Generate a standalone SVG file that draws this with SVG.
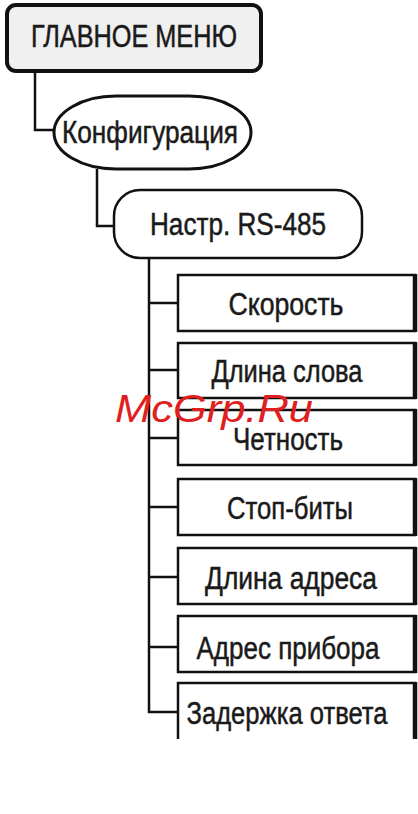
<svg xmlns="http://www.w3.org/2000/svg" width="418" height="814" viewBox="0 0 418 814">
<style>
text{font-family:"Liberation Sans",Arial,sans-serif;fill:#1a1a1a;text-anchor:middle}
.t{font-size:31px;stroke:#1a1a1a;stroke-width:0.5}
.box{fill:#fff;stroke:#111;stroke-width:2.5}
.edge{stroke:#111;stroke-width:4.5;fill:none}
.conn{fill:none;stroke:#111;stroke-width:2.5}
</style>
<rect width="418" height="814" fill="#fff"/>
<g id="connectors">
<path class="conn" d="M35,73 V130 H55"/>
<path class="conn" d="M97,169 V226 H114"/>
<path class="conn" d="M149,258 V712 H178 M149,303 H178 M149,370 H178 M149,438 H178 M149,507 H178 M149,577 H178 M149,647 H178"/>
</g>
<g id="main-menu">
<rect x="7" y="5" width="254" height="66" rx="9" fill="#f0f0f0" stroke="#111" stroke-width="4"/>
<text class="t" x="134" y="47" textLength="206" lengthAdjust="spacingAndGlyphs">ГЛАВНОЕ МЕНЮ</text>
</g>
<g id="config">
<rect x="54" y="96" width="197" height="73" rx="62" ry="36.5" fill="#fff" stroke="#111" stroke-width="3"/>
<text class="t" x="150" y="143" textLength="176" lengthAdjust="spacingAndGlyphs">Конфигурация</text>
</g>
<g id="rs485">
<rect x="114" y="190" width="248" height="68" rx="26" fill="#fff" stroke="#111" stroke-width="2.5"/>
<text class="t" x="238" y="235" textLength="176" lengthAdjust="spacingAndGlyphs">Настр. RS-485</text>
</g>
<g id="speed">
<rect class="box" x="178" y="275" width="237" height="56"/>
<line class="edge" x1="415" y1="274" x2="415" y2="332"/>
<text class="t" x="286" y="315" textLength="115" lengthAdjust="spacingAndGlyphs">Скорость</text>
</g>
<g id="word-length">
<rect class="box" x="178" y="343" width="237" height="55"/>
<line class="edge" x1="415" y1="342" x2="415" y2="399"/>
<text class="t" x="287" y="382" textLength="151" lengthAdjust="spacingAndGlyphs">Длина слова</text>
</g>
<g id="parity">
<rect class="box" x="178" y="410" width="237" height="55"/>
<line class="edge" x1="415" y1="409" x2="415" y2="466"/>
<text class="t" x="288" y="450" textLength="110" lengthAdjust="spacingAndGlyphs">Четность</text>
</g>
<g id="stop-bits">
<rect class="box" x="178" y="479" width="237" height="56"/>
<line class="edge" x1="415" y1="478" x2="415" y2="536"/>
<text class="t" x="290" y="519" textLength="126" lengthAdjust="spacingAndGlyphs">Стоп-биты</text>
</g>
<g id="addr-length">
<rect class="box" x="178" y="548" width="237" height="56"/>
<line class="edge" x1="415" y1="547" x2="415" y2="605"/>
<text class="t" x="291" y="589" textLength="172" lengthAdjust="spacingAndGlyphs">Длина адреса</text>
</g>
<g id="device-addr">
<rect class="box" x="178" y="616" width="237" height="56"/>
<line class="edge" x1="415" y1="615" x2="415" y2="673"/>
<text class="t" x="288" y="659" textLength="183" lengthAdjust="spacingAndGlyphs">Адрес прибора</text>
</g>
<g id="reply-delay">
<path class="box" d="M178,739 V683 H415 V739"/>
<line class="edge" x1="415" y1="682" x2="415" y2="739"/>
<text class="t" x="287" y="724" textLength="201" lengthAdjust="spacingAndGlyphs">Задержка ответа</text>
</g>
<text x="214" y="422" style="font-size:38px;font-style:italic;fill:#e02020" textLength="198" lengthAdjust="spacingAndGlyphs">McGrp.Ru</text>
</svg>
